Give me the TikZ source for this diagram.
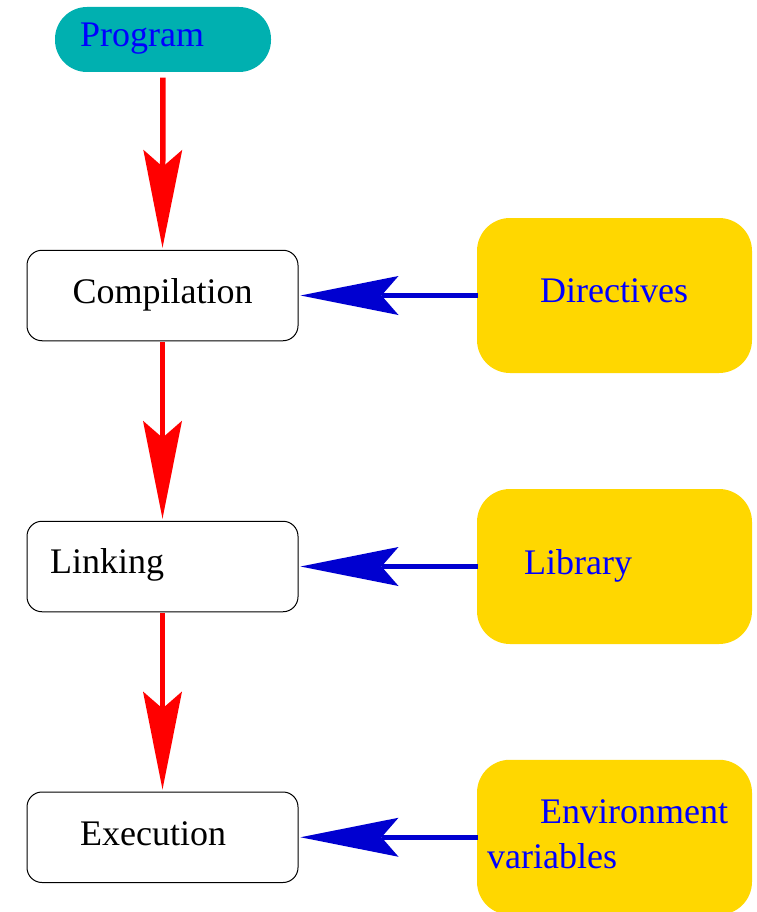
\documentclass[tikz,border=0pt]{standalone}
\usepackage{fontspec}
\setmainfont{Liberation Serif}
\usetikzlibrary{arrows.meta}
\definecolor{progteal}{HTML}{00B0B0}
\definecolor{boxgold}{HTML}{FFD700}
\definecolor{arrowblue}{HTML}{0000D0}
\definecolor{textblue}{HTML}{0000FF}
\tikzset{
  stepbox/.style={draw=black, line width=1pt, fill=white, rounded corners=15pt,
    minimum width=271pt, minimum height=90.5pt, inner sep=0pt},
  srcbox/.style={fill=boxgold, draw=none, rounded corners=33pt,
    minimum width=275pt, minimum height=155pt, inner sep=0pt},
  progbox/.style={fill=progteal, draw=none, rounded corners=32pt,
    minimum width=216pt, minimum height=65pt, inner sep=0pt},
  lbl/.style={anchor=base west, inner sep=0pt, font=\fontsize{36}{42}\selectfont},
  bluelbl/.style={lbl, text=textblue},
  bighead/.style={-{Stealth[length=98pt, width=39pt, inset=17pt, line width=0pt]}},
  flow/.style={bighead, draw=red, line width=5.5pt},
  feed/.style={bighead, draw=arrowblue, line width=5.5pt},
}
\begin{document}
\begin{tikzpicture}[x=1pt, y=-1pt]
\useasboundingbox (0,0) rectangle (756,912);
% nodes
\node[progbox] (prog) at (163,39.5) {};
\node[stepbox] (comp) at (162.5,295.5) {};
\node[stepbox] (link) at (162.5,566.5) {};
\node[stepbox] (exec) at (162.5,837.25) {};
\node[srcbox] (dir) at (614.5,295.5) {};
\node[srcbox] (lib) at (614.5,566.5) {};
\node[srcbox] (env) at (614.5,837.25) {};
% labels
\node[bluelbl] (progt) at (80,47) {Program};
\node[lbl] (compt) at (72.5,303) {Compilation};
\node[lbl] (linkt) at (50,573) {Linking};
\node[lbl] (exect) at (80,845) {Execution};
\node[bluelbl] (dirt) at (540,302) {Directives};
\node[bluelbl] (libt) at (524,574) {Library};
\node[bluelbl] (envt1) at (540,823) {Environment};
\node[bluelbl] (envt2) at (487,868) {variables};
% connectors
\draw[flow, shorten <=5.5pt, shorten >=2pt] (prog.south) -- (comp.north);
\draw[flow, shorten <=1pt, shorten >=2pt] (comp.south) -- (link.north);
\draw[flow, shorten <=1pt, shorten >=2pt] (link.south) -- (exec.north);
\draw[feed, shorten <=-1pt, shorten >=2pt] (dir.west) -- (comp.east);
\draw[feed, shorten <=-1pt, shorten >=2pt] (lib.west) -- (link.east);
\draw[feed, shorten <=-1pt, shorten >=2pt] (env.west) -- (exec.east);
\end{tikzpicture}
\end{document}
